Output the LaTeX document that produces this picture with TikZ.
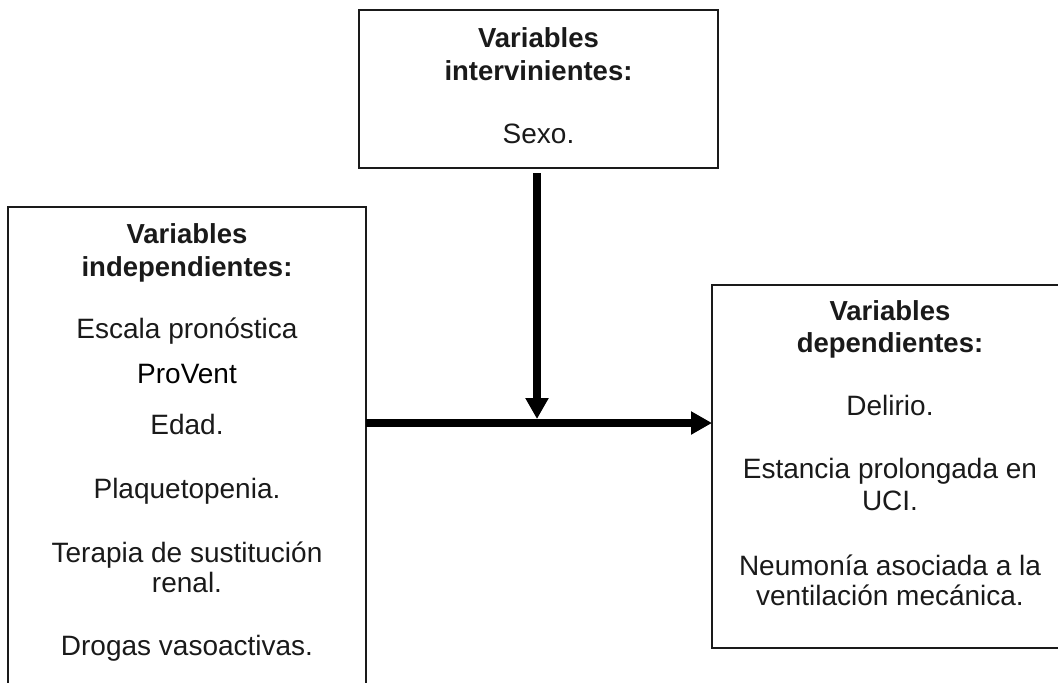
\documentclass[tikz,border=0pt]{standalone}
\usepackage{fontspec}
\setmainfont{Liberation Sans}
\usetikzlibrary{arrows.meta}
\definecolor{ink}{HTML}{1A1A1A}
\begin{document}
\begin{tikzpicture}[x=1pt,y=-1pt,
  box/.style={draw=ink,line width=1.6pt,rectangle,inner sep=0pt,outer sep=0pt},
  txt/.style={anchor=base,inner sep=0pt,text=ink,font=\fontsize{28}{30}\selectfont},
  ttl/.style={txt,font=\fontsize{27.5}{30}\selectfont\bfseries},
  arr/.style={line width=8pt,-{Triangle[width=22pt,length=21pt]},draw=black}]
\useasboundingbox (0,0) rectangle (1058,683);
\clip (0,0) rectangle (1058,683);
% boxes
\node[box,minimum width=358pt,minimum height=493pt] (lb) at (187,453.5) {};
\node[box,minimum width=359pt,minimum height=158pt] (mb) at (538.5,89) {};
\node[box,minimum width=356pt,minimum height=363pt] (rb) at (890,466.5) {};
% left texts
\node[ttl] (l1) at (187,243) {Variables};
\node[ttl] (l2) at (187,276) {independientes:};
\node[txt] (l3) at (187,338) {Escala pronóstica};
\node[txt,text=black] (l4) at (187,383) {ProVent};
\node[txt] (l5) at (187,434) {Edad.};
\node[txt] (l6) at (187,498) {Plaquetopenia.};
\node[txt] (l7) at (187,562) {Terapia de sustitución};
\node[txt] (l8) at (187,592) {renal.};
\node[txt] (l9) at (187,655) {Drogas vasoactivas.};
% middle texts
\node[ttl] (m1) at (538.5,47) {Variables};
\node[ttl] (m2) at (538.5,80) {intervinientes:};
\node[txt] (m3) at (538.5,143) {Sexo.};
% right texts
\node[ttl] (r1) at (890,320) {Variables};
\node[ttl] (r2) at (890,352) {dependientes:};
\node[txt] (r3) at (890,415) {Delirio.};
\node[txt] (r4) at (890,478) {Estancia prolongada en};
\node[txt] (r5) at (890,510) {UCI.};
\node[txt] (r6) at (890,575) {Neumonía asociada a la};
\node[txt] (r7) at (890,605) {ventilación mecánica.};
% connectors
\coordinate (h) at (0,423);
\coordinate (tip) at (537,419);
\draw[arr] (lb.east |- h) -- (rb.west |- h);
\draw[arr,shorten <=5pt] (mb.south -| tip) -- (tip);
\end{tikzpicture}
\end{document}
